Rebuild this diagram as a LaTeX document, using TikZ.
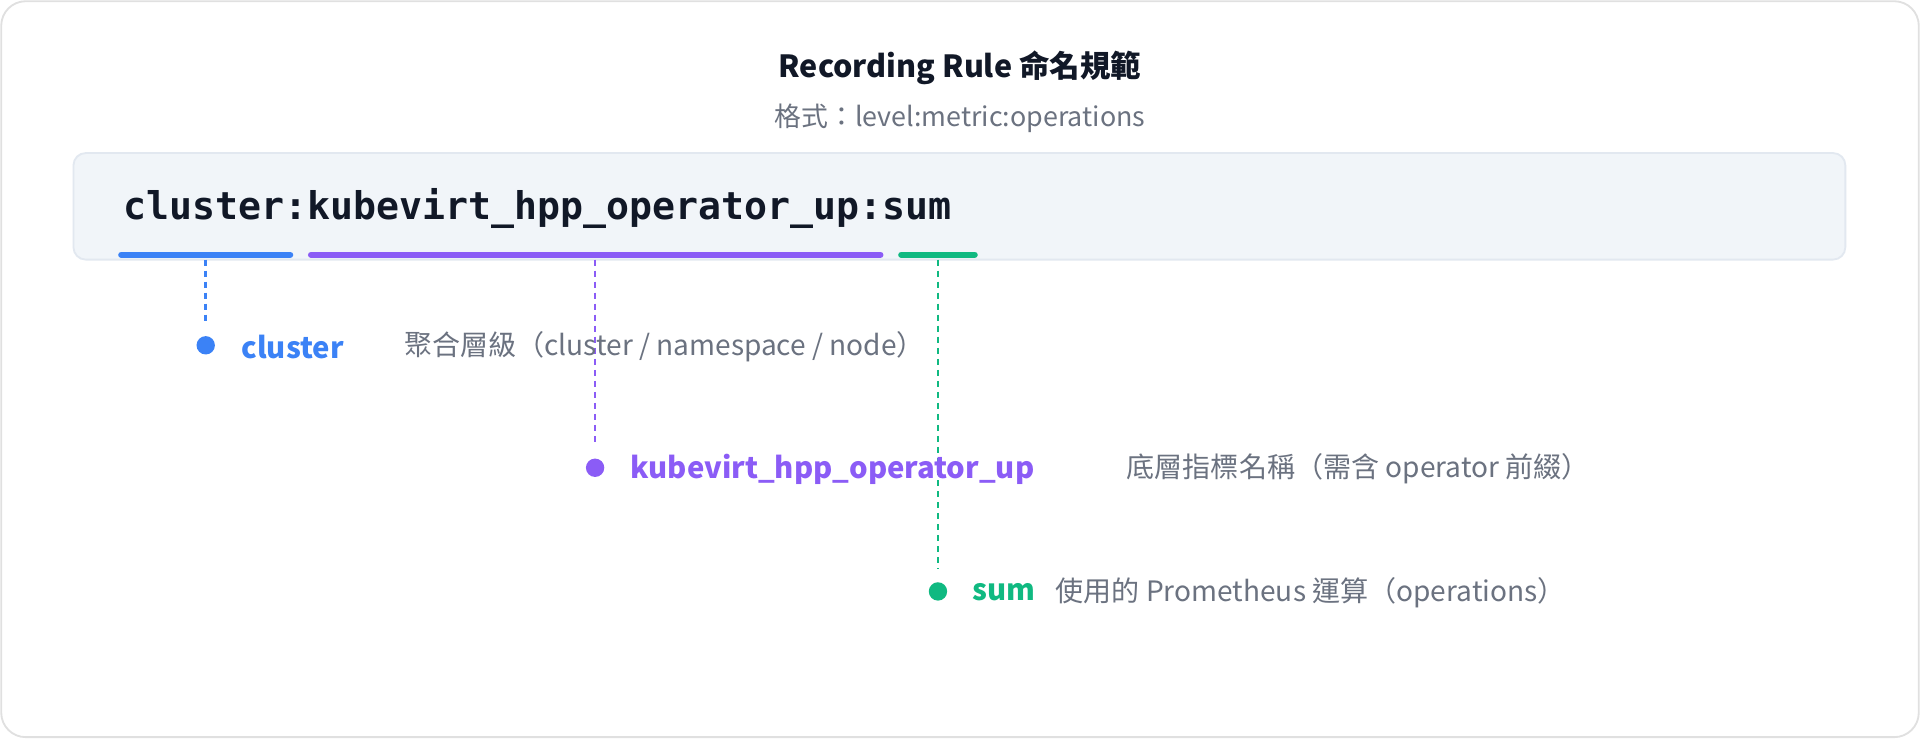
\documentclass[tikz,border=0pt]{standalone}
\usepackage{fontspec}
\setmainfont{Noto Sans CJK TC}
\newfontfamily\codefont{DejaVu Sans Mono}
\usepackage{tikz}
\usetikzlibrary{positioning}
\definecolor{rblue}{HTML}{3B82F6}
\definecolor{rpurple}{HTML}{8B5CF6}
\definecolor{rgreen}{HTML}{10B981}
\definecolor{rgray}{HTML}{6B7280}
\definecolor{rdark}{HTML}{111827}
\definecolor{boxfill}{HTML}{F1F5F9}
\definecolor{boxline}{HTML}{E2E8F0}
\begin{document}
\begin{tikzpicture}
			[x=1bp,y=-1bp,line cap=round,
			%Styles
			part bar/.style={line width=5bp},
			guide/.style={line width=2bp,dash pattern=on 5bp off 4bp,line cap=butt},
			dot/.style={circle,inner sep=0pt,minimum size=15bp,fill=#1},
			part name/.style={anchor=west,inner sep=0pt,text=#1,font=\fontsize{24}{28}\selectfont\bfseries},
			desc/.style={anchor=west,inner sep=0pt,text=rgray,font=\fontsize{23}{28}\selectfont}
			]
			
			%Frame
			\draw[rounded corners=20bp,draw=black!12,line width=1.5bp,fill=white] (1,1) rectangle (1567,602);
			\useasboundingbox (0,0) rectangle (1568,603);
			
			%Title
			\node[text=rdark,font=\fontsize{25}{30}\selectfont\bfseries] (title) at (784,55) {Recording Rule 命名規範};
			\node[text=rgray,font=\fontsize{22}{26}\selectfont] (subtitle) at (784,97) {格式：level:metric:operations};
			
			%The rule name
			\draw[rounded corners=10bp,fill=boxfill,draw=boxline,line width=1.5bp] (60,125) rectangle (1507,212);
			\node[anchor=west,inner sep=0pt,text=rdark,font=\fontsize{31.3}{36}\codefont\bfseries] (code) at (101,170) {cluster:kubevirt\_hpp\_operator\_up:sum};
			
			\draw[part bar,rblue] (99,208) -- (237,208);
			\draw[part bar,rpurple] (254,208) -- (719,208);
			\draw[part bar,rgreen] (736,208) -- (796,208);
			
			%Parts
			\node[dot=rblue] (d1) at (168,282) {};
			\node[dot=rpurple] (d2) at (486,382) {};
			\node[dot=rgreen] (d3) at (766,483) {};
			\coordinate (t1) at (168,212);
			\coordinate (t2) at (486,212);
			\coordinate (t3) at (766,212);
			\coordinate (e1) at (168,265);
			\coordinate (e2) at (486,365);
			\coordinate (e3) at (766,465);
			\draw[guide,rblue] (t1) -- (e1);
			\draw[guide,rpurple] (t2) -- (e2);
			\draw[guide,rgreen] (t3) -- (e3);
			
			\node[part name=rblue] (n1) at (197,283) {cluster};
			\node[desc] (c1) at (330,283) {聚合層級（cluster / namespace / node）};
			\node[part name=rpurple] (n2) at (515,383) {kubevirt\_hpp\_operator\_up};
			\node[desc] (c2) at (920,383) {底層指標名稱（需含 operator 前綴）};
			\node[part name=rgreen] (n3) at (794,484) {sum};
			\node[desc] (c3) at (862,484) {使用的 Prometheus 運算（operations）};
		\end{tikzpicture}
\end{document}
